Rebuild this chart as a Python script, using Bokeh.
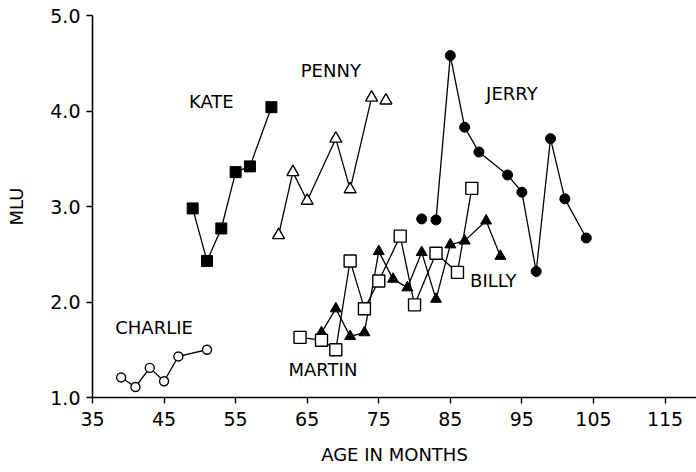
from bokeh.plotting import figure
from bokeh.models import Label, FixedTicker, PrintfTickFormatter, Range1d
from bokeh.embed import file_html
from bokeh.resources import INLINE

# ---- data (age in months, MLU) ----
charlie_x = [39, 41, 43, 45, 47, 51]
charlie_y = [1.21, 1.11, 1.31, 1.17, 1.43, 1.50]

kate_x = [49, 51, 53, 55, 57, 60]
kate_y = [2.98, 2.43, 2.77, 3.36, 3.42, 4.04]

penny_x = [61, 63, 65, 69, 71, 74, 76]
penny_y = [2.70, 3.36, 3.06, 3.71, 3.18, 4.14, 4.11]

jerry_x = [81, 83, 85, 87, 89, 93, 95, 97, 99, 101, 104]
jerry_y = [2.87, 2.86, 4.58, 3.83, 3.57, 3.33, 3.15, 2.32, 3.71, 3.08, 2.67]

martin_x = [64, 67, 69, 71, 73, 75, 78, 80, 83, 86, 88]
martin_y = [1.63, 1.60, 1.50, 2.43, 1.93, 2.22, 2.69, 1.97, 2.51, 2.31, 3.19]

billy_x = [67, 69, 71, 73, 75, 77, 79, 81, 83, 85, 87, 90, 92]
billy_y = [1.68, 1.93, 1.64, 1.68, 2.53, 2.24, 2.15, 2.52, 2.03, 2.60, 2.64, 2.85, 2.48]

x_ticks = [35, 45, 55, 65, 75, 85, 95, 105, 115]
y_ticks = [1.0, 2.0, 3.0, 4.0, 5.0]

FONT = "DejaVu Sans"

p = figure(width=696, height=472,
           x_range=Range1d(35, 119.4), y_range=Range1d(1.0, 5.0),
           output_backend="svg", toolbar_location=None,
           min_border_left=92, min_border_right=0,
           min_border_top=15, min_border_bottom=75)
p.outline_line_color = None
p.grid.visible = False
p.background_fill_color = "white"

for ax in (p.xaxis[0], p.yaxis[0]):
    ax.axis_line_width = 1.6
    ax.axis_line_color = "black"
    ax.major_tick_line_color = "black"
    ax.major_tick_line_width = 1.4
    ax.major_tick_out = 6
    ax.major_tick_in = 0
    ax.minor_tick_line_color = None
    ax.major_label_text_font = FONT
    ax.major_label_text_font_size = "19px"
    ax.major_label_text_color = "black"
    ax.axis_label_text_font = FONT
    ax.axis_label_text_font_size = "18px"
    ax.axis_label_text_font_style = "normal"
    ax.axis_label_text_color = "black"

p.xaxis[0].ticker = FixedTicker(ticks=x_ticks)
p.xaxis[0].major_label_standoff = 8
p.xaxis[0].axis_label = "AGE IN MONTHS"
p.xaxis[0].axis_label_standoff = 15

p.yaxis[0].ticker = FixedTicker(ticks=y_ticks)
p.yaxis[0].formatter = PrintfTickFormatter(format="%.1f")
p.yaxis[0].major_label_standoff = 6
p.yaxis[0].axis_label = "MLU"
p.yaxis[0].axis_label_standoff = 20

LW = 1.3
# lines
p.line(charlie_x, charlie_y, line_color="black", line_width=LW)
p.line(kate_x, kate_y, line_color="black", line_width=LW)
p.line(penny_x[:-1], penny_y[:-1], line_color="black", line_width=LW)
p.line(jerry_x[1:], jerry_y[1:], line_color="black", line_width=LW)
p.line(martin_x, martin_y, line_color="black", line_width=LW)
p.line(billy_x, billy_y, line_color="black", line_width=LW)

# markers
p.scatter(charlie_x, charlie_y, marker="circle", size=9, fill_color="white",
          line_color="black", line_width=1.4)
p.scatter(kate_x, kate_y, marker="square", size=11, fill_color="black",
          line_color="black")
p.scatter(penny_x, penny_y, marker="triangle", size=12, fill_color="white",
          line_color="black", line_width=1.4)
p.scatter(jerry_x, jerry_y, marker="circle", size=10, fill_color="black",
          line_color="black")
p.scatter(billy_x, billy_y, marker="triangle", size=11, fill_color="black",
          line_color="black")
p.scatter(martin_x, martin_y, marker="square", size=12, fill_color="white",
          line_color="black", line_width=1.4)

names = ["KATE", "PENNY", "JERRY", "CHARLIE", "MARTIN", "BILLY"]
name_x = [51.6, 68.3, 93.6, 43.6, 67.2, 91.0]
name_y = [4.10, 4.42, 4.18, 1.73, 1.29, 2.22]
for n, lx, ly in zip(names, name_x, name_y):
    p.add_layout(Label(x=lx, y=ly, text=n, text_font=FONT, text_font_size="18px",
                       text_align="center", text_baseline="middle",
                       text_color="black"))

open("out.html", "w").write(file_html(p, INLINE))
